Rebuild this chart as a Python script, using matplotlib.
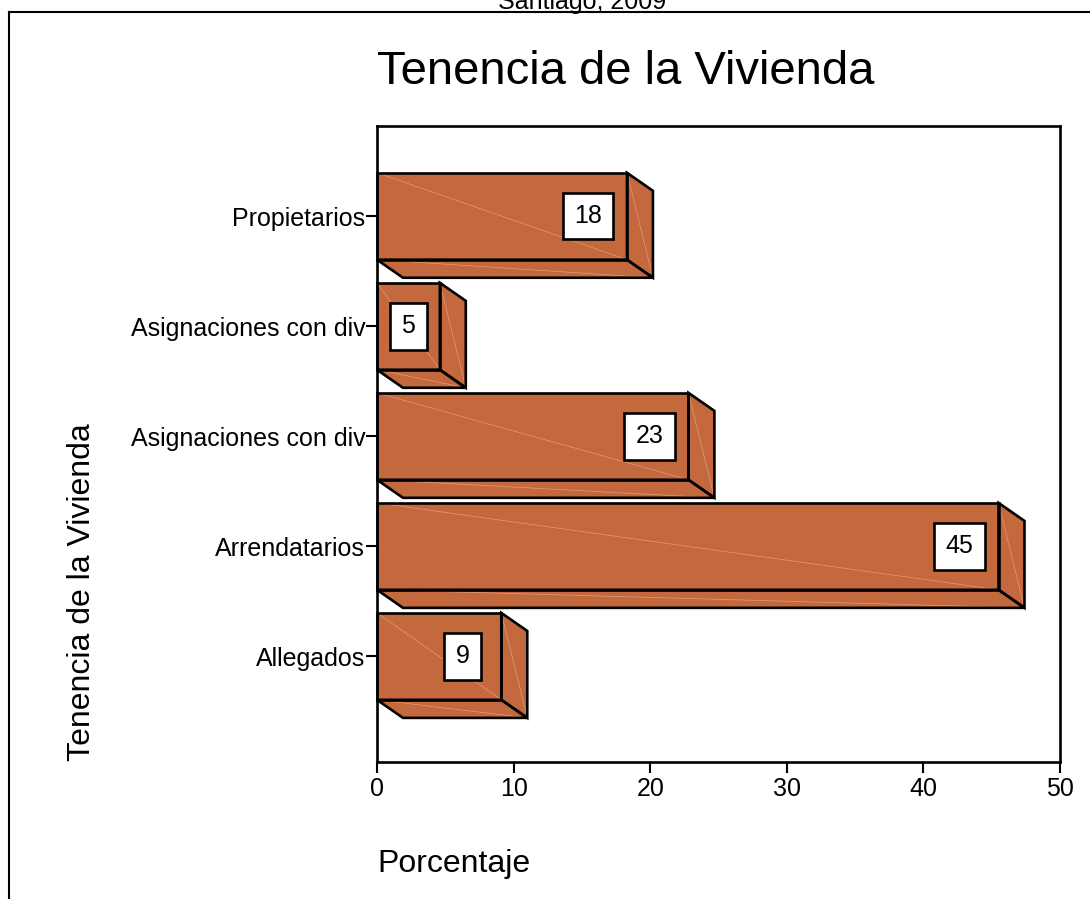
import matplotlib
matplotlib.use("Agg")
import matplotlib.pyplot as plt
from matplotlib.patches import Polygon
from matplotlib.lines import Line2D

plt.rcParams['font.family'] = ['Liberation Sans', 'DejaVu Sans']

categories = ["Allegados", "Arrendatarios", "Asignaciones con div",
              "Asignaciones con div", "Propietarios"]
values = [9.1, 45.5, 22.8, 4.6, 18.3]
labels = ["9", "45", "23", "5", "18"]
xticks = [0, 10, 20, 30, 40, 50]

W, H = 1090, 899
fig = plt.figure(figsize=(W / 100, H / 100), dpi=100)
ax_l, ax_r, ax_t, ax_b = 377, 1060, 126, 762
ax = fig.add_axes([ax_l / W, 1 - ax_b / H, (ax_r - ax_l) / W, (ax_b - ax_t) / H])

ax.set_xlim(0, 50)
ax.set_ylim(-0.96, 4.82)

face = "#C4683D"
diag = "#E59C78"
bar_h = 0.79
dx = 1.9     # depth in x (data units)
dy = 0.164   # depth in y (data units)

for i, (v, lab) in enumerate(zip(values, labels)):
    top = i + bar_h / 2
    bot = i - bar_h / 2
    bottom_poly = [(0, bot), (v, bot), (v + dx, bot - dy), (dx, bot - dy)]
    side_poly = [(v, top), (v + dx, top - dy), (v + dx, bot - dy), (v, bot)]
    front_poly = [(0, top), (v, top), (v, bot), (0, bot)]
    for poly in (bottom_poly, side_poly, front_poly):
        ax.add_patch(Polygon(poly, closed=True, facecolor=face,
                             edgecolor="none", zorder=2, clip_on=False))
    # faint triangulation diagonals
    ax.add_line(Line2D([0, v], [top, bot], color=diag, lw=0.5, zorder=2.5))
    ax.add_line(Line2D([v, v + dx], [top, bot - dy], color=diag, lw=0.5, zorder=2.5))
    ax.add_line(Line2D([0, v + dx], [bot, bot - dy], color=diag, lw=0.5, zorder=2.5,
                       clip_on=False))
    for poly in (bottom_poly, side_poly, front_poly):
        ax.add_patch(Polygon(poly, closed=True, facecolor="none",
                             edgecolor="black", linewidth=1.9,
                             joinstyle="miter", zorder=3, clip_on=False))
    cx = max(v - 2.85, 2.3)
    ax.text(cx, i, lab, ha="center", va="center", fontsize=18, zorder=4,
            bbox=dict(boxstyle="square,pad=0.45", facecolor="white",
                      edgecolor="black", linewidth=1.9))

ax.set_yticks(range(len(categories)))
ax.set_yticklabels(categories, fontsize=18)
ax.set_xticks(xticks)
ax.set_xticklabels([str(t) for t in xticks], fontsize=18)
ax.tick_params(axis="both", direction="out", length=8, width=1.5, colors="black")
ax.tick_params(axis="x", pad=3)
ax.tick_params(axis="y", pad=0.5)
for s in ax.spines.values():
    s.set_linewidth(1.9)

fig.text(ax_l / W, 1 - 72 / H, "Tenencia de la Vivienda", fontsize=34,
         ha="left", va="center")
fig.text(377 / W, 1 - 872 / H, "Porcentaje", fontsize=23, ha="left", va="baseline")
fig.text(82 / W, 1 - 592 / H, "Tenencia de la Vivienda", fontsize=23,
         rotation=90, ha="center", va="center")
fig.text(582 / W, 1 - 9 / H, "Santiago, 2009", fontsize=18, ha="center", va="baseline")

# outer frame (partially visible)
fig.add_artist(Line2D([9 / W, 1.0], [1 - 12 / H, 1 - 12 / H], color="black",
                      lw=1.5, transform=fig.transFigure))
fig.add_artist(Line2D([9 / W, 9 / W], [1 - 12 / H, 0], color="black",
                      lw=1.5, transform=fig.transFigure))

fig.savefig("out.png", dpi=100, facecolor="white")
